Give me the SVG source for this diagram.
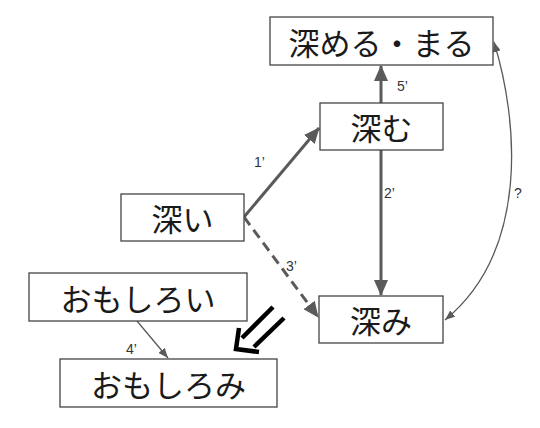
<svg xmlns="http://www.w3.org/2000/svg" width="540" height="428" viewBox="0 0 540 428">
<style>
.box{fill:#fff;stroke:#444;stroke-width:1.3}
.t{font-family:"Noto Sans CJK JP","Noto Sans",sans-serif;font-size:31px;fill:#1a1a1a;text-anchor:middle;dominant-baseline:central}
.lb{font-family:"Liberation Sans",Arial,sans-serif;font-size:14px;fill:#333}
.thick{stroke:#5a5a5a;stroke-width:3;fill:none}
.thin{stroke:#5a5a5a;stroke-width:1.3;fill:none}
</style>
<defs>
<marker id="ah" markerUnits="userSpaceOnUse" markerWidth="16" markerHeight="14" refX="15" refY="7" orient="auto">
<path d="M0,0 L16,7 L0,14 Z" fill="#5a5a5a"/>
</marker>
<marker id="as" markerUnits="userSpaceOnUse" markerWidth="10" markerHeight="8" refX="10" refY="4" orient="auto">
<path d="M0,0 L10,4 L0,8 Z" fill="#5a5a5a"/>
</marker>
<marker id="as2" markerUnits="userSpaceOnUse" markerWidth="10" markerHeight="8" refX="0" refY="4" orient="auto">
<path d="M10,0 L0,4 L10,8 Z" fill="#5a5a5a"/>
</marker>
</defs>
<g id="connectors">
<line class="thick" x1="381" y1="103" x2="381" y2="66" marker-end="url(#ah)"/>
<line class="thick" x1="381" y1="150" x2="381" y2="295" marker-end="url(#ah)"/>
<line class="thick" x1="244" y1="217" x2="319" y2="128" marker-end="url(#ah)"/>
<line class="thick" x1="244" y1="217" x2="318" y2="317" stroke-dasharray="10,6" marker-end="url(#ah)"/>
<path class="thin" d="M494,42 C518,120 530,250 445,320" marker-start="url(#as2)" marker-end="url(#as)"/>
<line class="thin" x1="137" y1="321" x2="168" y2="358" marker-end="url(#as)"/>
<g id="bigarrow" stroke="#000" stroke-width="4.5" fill="none" stroke-linecap="butt">
<line x1="273" y1="307" x2="242" y2="338"/>
<line x1="284" y1="318" x2="254" y2="347"/>
<path d="M239,328 L236,349 L259,352" stroke-linejoin="miter"/>
</g>
<text class="lb" x="397" y="91">5’</text>
<text class="lb" x="384" y="198">2’</text>
<text class="lb" x="254" y="167">1’</text>
<text class="lb" x="286" y="271">3’</text>
<text class="lb" x="514" y="198">?</text>
<text class="lb" x="126" y="354">4’</text>
</g>
<g id="n-fukameru"><rect class="box" x="270" y="17" width="223" height="48"/><text class="t" x="381.5" y="41">深める・まる</text></g>
<g id="n-fukamu"><rect class="box" x="320" y="103" width="123" height="47"/><text class="t" x="381.5" y="126.5">深む</text></g>
<g id="n-fukai"><rect class="box" x="121" y="194" width="123" height="47"/><text class="t" x="182.5" y="217.5">深い</text></g>
<g id="n-fukami"><rect class="box" x="319" y="296" width="124" height="47"/><text class="t" x="381" y="319.5">深み</text></g>
<g id="n-omoshiroi"><rect class="box" x="29" y="273" width="218" height="48"/><text class="t" x="138" y="297">おもしろい</text></g>
<g id="n-omoshiromi"><rect class="box" x="60" y="359" width="217" height="48"/><text class="t" x="168.5" y="383">おもしろみ</text></g>
</svg>
